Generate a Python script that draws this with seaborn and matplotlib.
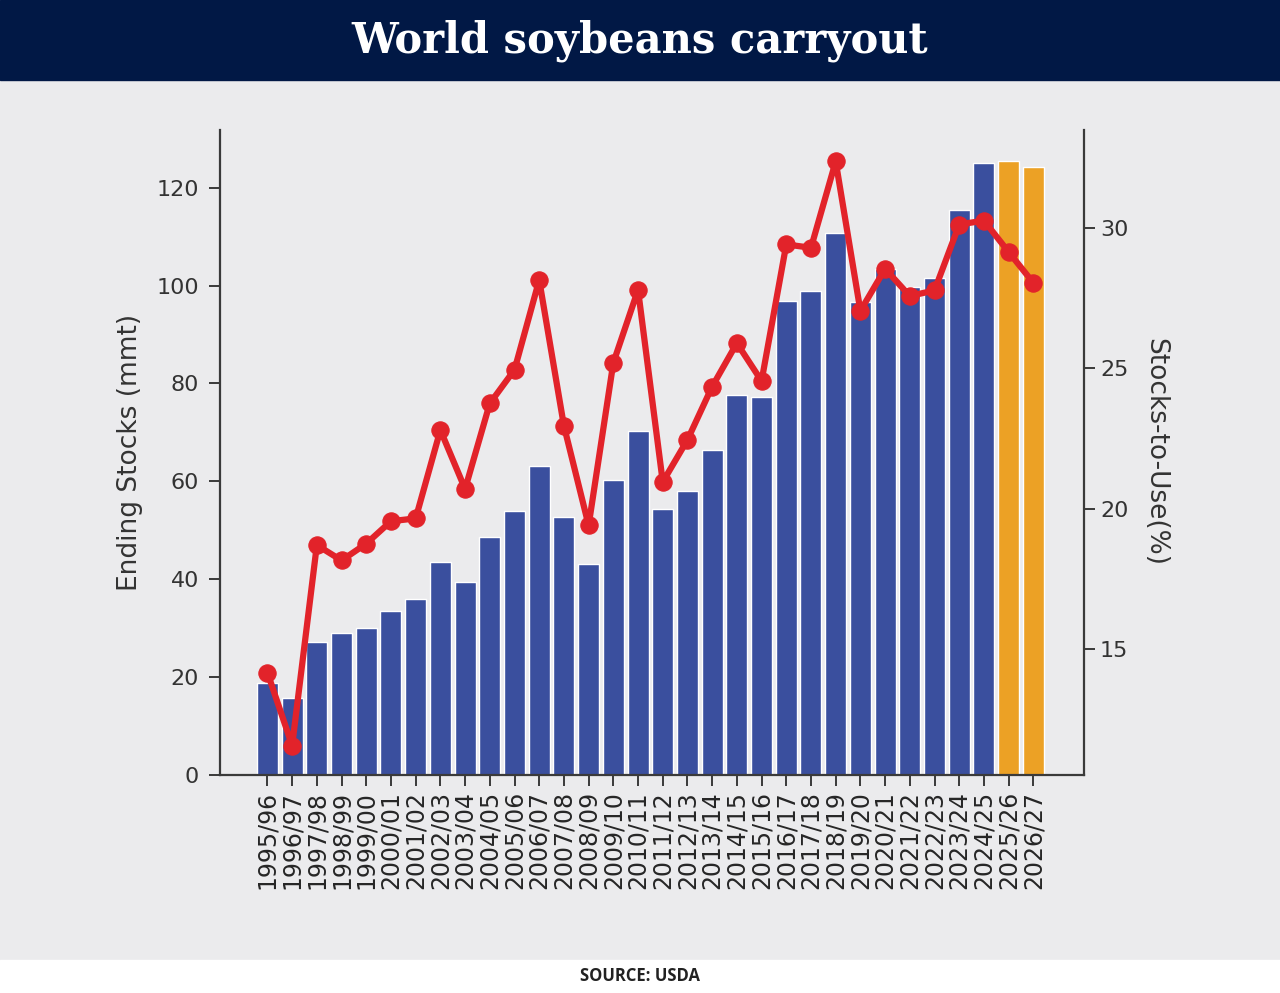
import numpy as np
import matplotlib
matplotlib.use("Agg")
import matplotlib.pyplot as plt
import seaborn as sns
import pandas as pd

seasons = ['1995/96', '1996/97', '1997/98', '1998/99', '1999/00', '2000/01',
           '2001/02', '2002/03', '2003/04', '2004/05', '2005/06', '2006/07',
           '2007/08', '2008/09', '2009/10', '2010/11', '2011/12', '2012/13',
           '2013/14', '2014/15', '2015/16', '2016/17', '2017/18', '2018/19',
           '2019/20', '2020/21', '2021/22', '2022/23', '2023/24', '2024/25',
           '2025/26', '2026/27']
ending_stocks = [18.8, 15.7, 27.2, 29.0, 30.1, 33.6, 36.0, 43.5, 39.4, 48.6,
                 54.0, 63.1, 52.8, 43.2, 60.2, 70.2, 54.3, 58.0, 66.4, 77.6,
                 77.3, 96.9, 99.0, 110.8, 96.7, 103.3, 99.7, 101.5, 115.4,
                 125.0, 125.4, 124.3]
stocks_to_use = [14.15, 11.55, 18.7, 18.15, 18.75, 19.55, 19.65, 22.8, 20.7,
                 23.75, 24.95, 28.15, 22.95, 19.4, 25.2, 27.8, 20.95, 22.45,
                 24.35, 25.9, 24.55, 29.42, 29.3, 32.38, 27.05, 28.55, 27.58,
                 27.78, 30.13, 30.27, 29.15, 28.05]
kind = ['actual'] * 30 + ['projected'] * 2

BG = '#ebebed'
BANNER = '#011845'
BLUE = '#3a4f9e'
ORANGE = '#eca125'
RED = '#e2232a'
DARK = '#3a3a3a'

sns.set_style('ticks', {'axes.facecolor': BG, 'figure.facecolor': BG,
                        'axes.edgecolor': DARK, 'xtick.color': DARK,
                        'ytick.color': DARK, 'text.color': '#333333',
                        'axes.labelcolor': '#333333'})
plt.rcParams['font.family'] = ['DejaVu Sans']

df = pd.DataFrame({'season': seasons, 'stocks': ending_stocks,
                   'ratio': stocks_to_use, 'kind': kind})
df['pos'] = np.arange(len(df))

fig = plt.figure(figsize=(12.8, 9.93), dpi=100)
ax = fig.add_axes([220 / 1280, 1 - 775 / 993, 864 / 1280, 645 / 993])

sns.barplot(data=df, x='season', y='stocks', hue='kind',
            palette={'actual': BLUE, 'projected': ORANGE}, dodge=False,
            width=0.85, saturation=1, legend=False, ax=ax)

ax2 = ax.twinx()
sns.lineplot(data=df, x='pos', y='ratio', color=RED, linewidth=4.5,
             marker='o', markersize=12.5, markeredgecolor=RED, sort=False,
             ax=ax2)

ax.set_xlim(-1.92, 33.05)
ax.set_ylim(0, 131.8)
ax2.set_ylim(10.5, 33.5)
ax.set_yticks([0, 20, 40, 60, 80, 100, 120])
ax2.set_yticks([15, 20, 25, 30])

for a in (ax, ax2):
    a.spines['top'].set_visible(False)
    for s in a.spines.values():
        s.set_linewidth(1.6)
    a.tick_params(length=8, width=1.4, labelsize=16, colors=DARK,
                  labelcolor='#333333')
ax.tick_params(axis='y', pad=7)
ax.spines['right'].set_visible(False)
ax2.spines['left'].set_visible(False)
ax2.spines['bottom'].set_visible(False)

ax.set_xticks(df['pos'])
ax.set_xticklabels(seasons, rotation=90, fontsize=17, color='#262626')

ax.set_xlabel('')
ax.set_ylabel('Ending Stocks (mmt)', fontsize=19, va='center')
ax.yaxis.set_label_coords(-0.104, 0.5)
ax2.set_ylabel('Stocks-to-Use(%)', fontsize=19, rotation=270, va='center')
ax2.yaxis.set_label_coords(1.082, 0.5)

# title banner and source strip
fig.patches.append(plt.Rectangle((0, 1 - 80 / 993), 1, 80 / 993,
                                 transform=fig.transFigure, color=BANNER,
                                 zorder=0))
fig.patches.append(plt.Rectangle((0, 0), 1, 33 / 993,
                                 transform=fig.transFigure, color='white',
                                 zorder=0))
fig.text(0.5, 1 - 41 / 993, 'World soybeans carryout', ha='center',
         va='center', color='white', fontsize=30, fontweight='bold',
         family='DejaVu Serif')
fig.text(0.5, 1 - 976 / 993, 'SOURCE: USDA', ha='center', va='center',
         color='#222222', fontsize=12, fontweight='bold',
         family='Open Sans')

fig.savefig('out.png', dpi=100, facecolor=BG)
